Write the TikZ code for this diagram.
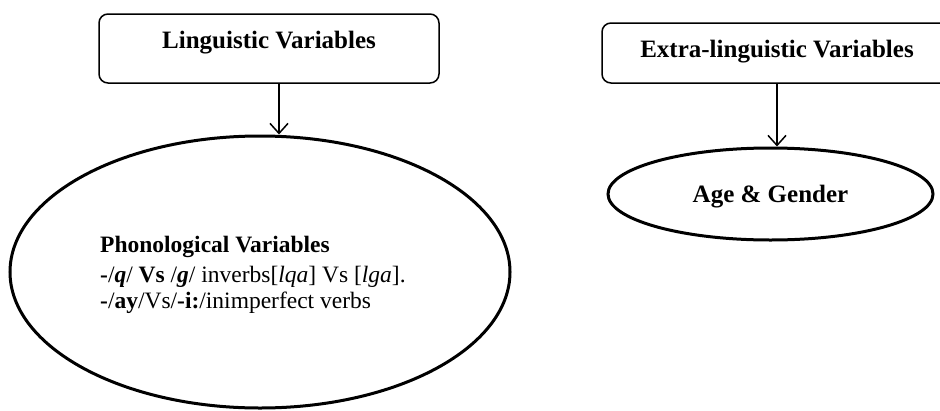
\documentclass[tikz,border=0pt]{standalone}
\usepackage{fontspec}
\setmainfont{Liberation Serif}
\usetikzlibrary{arrows.meta,shapes.geometric}
\begin{document}
\begin{tikzpicture}[x=1pt,y=-1pt,
  hdrbox/.style={draw,line width=1.5pt,rounded corners=9pt,inner sep=0pt},
  ovalshape/.style={draw,ellipse,line width=3pt,inner sep=0pt},
  arr/.style={line width=1.5pt,-{Straight Barb[length=10pt,width=18pt,line width=1.5pt]}},
  hdr/.style={font=\fontsize{25}{30}\selectfont\bfseries,inner sep=0pt,anchor=base},
  body/.style={font=\fontsize{23.5}{28}\selectfont,inner sep=0pt,anchor=base west}]
\useasboundingbox (0,0) rectangle (940,410);
\begin{scope}
\clip (0,0) rectangle (940,410);
\node[hdrbox,minimum width=340pt,minimum height=69pt] (box1) at (269,48.5) {};
\node[hdrbox,minimum width=350pt,minimum height=60pt] (box2) at (777,53) {};
\end{scope}
\node[hdr] (t1) at (269,48) {Linguistic Variables};
\node[hdr] (t2) at (777,57) {Extra-linguistic Variables};
\node[ovalshape,minimum width=500pt,minimum height=272pt] (ell1) at (260,272) {};
\node[ovalshape,minimum width=325pt,minimum height=92pt] (ell2) at (770.5,194) {};
\node[hdr] (t3) at (ell2.center |- 0,202) {Age \& Gender};
\node[body] (l1) at (100,252) {\textbf{Phonological Variables}};
\node[body] (l2) at (100,282) {\textbf{-}/\textbf{\textit{q}}/ \textbf{Vs} /\textbf{\textit{g}}/ inverbs[\textit{lqa}] Vs [\textit{lga}].};
\node[body] (l3) at (100,308) {\textbf{-}/\textbf{ay}/Vs/\textbf{-i:}/inimperfect verbs};
\draw[arr] ([xshift=10pt]box1.south) -- ([xshift=10pt]box1.south |- ell1.north);
\draw[arr] (box2.south) -- (box2.south |- ell2.north);
\end{tikzpicture}
\end{document}
